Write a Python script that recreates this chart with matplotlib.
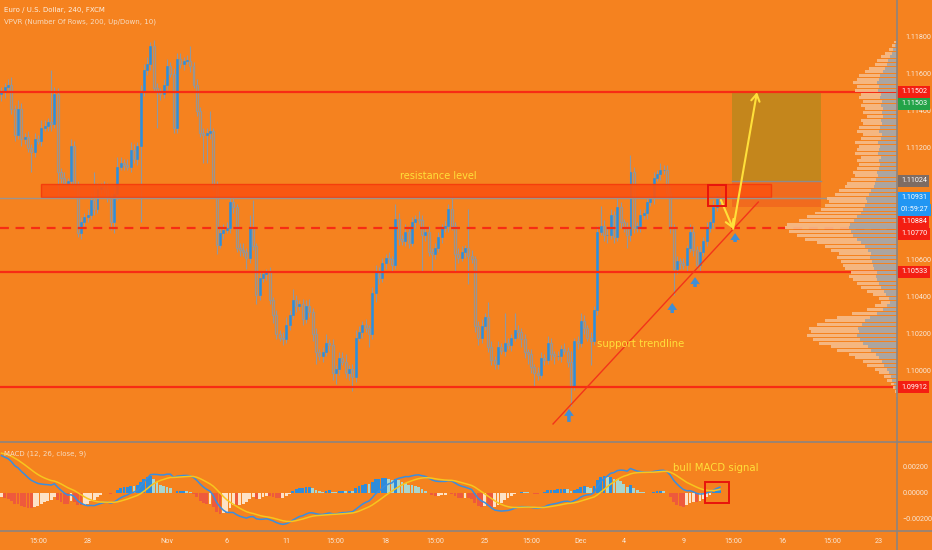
import numpy as np
import matplotlib.pyplot as plt
from matplotlib.patches import Rectangle
from matplotlib.lines import Line2D

# EUR/USD 4h closes (open = previous close)
first_open = 1.1149
closes = [
    1.1150, 1.1153, 1.1154, 1.1141, 1.1127, 1.1141, 1.1125, 1.1126, 1.1120, 1.1118,
    1.1125, 1.1124, 1.1131, 1.1132, 1.1134, 1.1133, 1.1149, 1.1107, 1.1104, 1.1101,
    1.1102, 1.1121, 1.1100, 1.1074, 1.1080, 1.1083, 1.1084, 1.1092, 1.1087, 1.1098,
    1.1099, 1.1098, 1.1094, 1.1080, 1.1095, 1.1110, 1.1112, 1.1111, 1.1110, 1.1119,
    1.1114, 1.1121, 1.1150, 1.1162, 1.1165, 1.1175, 1.1152, 1.1150, 1.1149, 1.1154,
    1.1164, 1.1160, 1.1131, 1.1168, 1.1165, 1.1167, 1.1167, 1.1164, 1.1154, 1.1140,
    1.1128, 1.1127, 1.1128, 1.1129, 1.1099, 1.1068, 1.1074, 1.1076, 1.1077, 1.1091,
    1.1088, 1.1066, 1.1065, 1.1064, 1.1061, 1.1077, 1.1067, 1.1041, 1.1050, 1.1052,
    1.1053, 1.1038, 1.1030, 1.1020, 1.1018, 1.1017, 1.1025, 1.1030, 1.1038, 1.1035,
    1.1036, 1.1028, 1.1035, 1.1032, 1.1020, 1.1010, 1.1008, 1.1010, 1.1015, 1.1014,
    1.0999, 1.1001, 1.1007, 1.1005, 1.0999, 1.1001, 1.0997, 1.1018, 1.1021, 1.1025,
    1.1023, 1.1020, 1.1042, 1.1053, 1.1050, 1.1058, 1.1061, 1.1060, 1.1057, 1.1082,
    1.1071, 1.1070, 1.1075, 1.1069, 1.1080, 1.1082, 1.1081, 1.1073, 1.1075, 1.1064,
    1.1063, 1.1066, 1.1072, 1.1077, 1.1078, 1.1087, 1.1078, 1.1063, 1.1061, 1.1064,
    1.1066, 1.1062, 1.1060, 1.1024, 1.1018, 1.1024, 1.1029, 1.1013, 1.1006, 1.1004,
    1.1013, 1.1011, 1.1015, 1.1014, 1.1018, 1.1022, 1.1021, 1.1017, 1.1010, 1.1009,
    1.1002, 1.0999, 1.0998, 1.1007, 1.1006, 1.1015, 1.1009, 1.1008, 1.1008, 1.1012,
    1.1011, 1.1005, 1.0992, 1.1016, 1.1015, 1.1027, 1.1023, 1.1018, 1.1016, 1.1033,
    1.1075, 1.1078, 1.1073, 1.1073, 1.1084, 1.1072, 1.1088, 1.1080, 1.1077, 1.1073,
    1.1107, 1.1077, 1.1078, 1.1084, 1.1085, 1.1091, 1.1093, 1.1104, 1.1106, 1.1108,
    1.1108, 1.1096, 1.1077, 1.1055, 1.1059, 1.1058, 1.1057, 1.1066, 1.1075, 1.1065,
    1.1057, 1.1064, 1.1070, 1.1077, 1.1080, 1.1088, 1.1094, 1.1093,
]
# wick lengths in pips above / below the body
wick_up = [
    3, 2, 3, 4, 2, 5, 3, 2, 3, 2,   3, 2, 4, 3, 2, 28, 4, 3, 2, 3,
    2, 4, 3, 2, 3, 2, 3, 4, 15, 3,  2, 3, 3, 2, 4, 5, 3, 2, 3, 4,
    3, 2, 4, 3, 4, 2, 3, 3, 2, 3,   4, 2, 3, 3, 3, 2, 3, 8, 2, 3,
    2, 3, 3, 11, 2, 3, 4, 3, 3, 2,  3, 2, 3, 4, 2, 7, 15, 2, 3, 2,
    2, 3, 2, 3, 2, 3, 4, 3, 6, 3,   2, 3, 3, 4, 2, 3, 2, 3, 5, 2,
    3, 2, 3, 3, 4, 2, 3, 4, 3, 2,   3, 2, 3, 4, 3, 3, 2, 3, 2, 8,
    3, 2, 4, 3, 3, 2, 4, 3, 2, 3,   2, 3, 3, 2, 3, 3, 10, 2, 3, 3,
    2, 21, 3, 2, 3, 4, 2, 8, 3, 2,  3, 2, 16, 3, 2, 9, 3, 2, 3, 2,
    3, 2, 3, 3, 2, 4, 3, 2, 3, 2,   3, 2, 6, 2, 3, 4, 3, 2, 3, 2,
    3, 11, 3, 4, 3, 2, 6, 3, 2, 3,  9, 3, 2, 3, 2, 3, 2, 3, 2, 4,
    3, 3, 3, 2, 3, 2, 3, 2, 4, 3,   2, 3, 2, 3, 2, 4, 2, 5,
]
wick_dn = [
    4, 3, 2, 3, 3, 2, 4, 3, 2, 11,  3, 2, 3, 2, 3, 4, 2, 14, 3, 2,
    3, 2, 3, 2, 3, 2, 3, 2, 3, 2,   3, 2, 3, 4, 6, 3, 2, 3, 2, 3,
    2, 3, 41, 2, 3, 3, 2, 19, 3, 2, 3, 2, 3, 3, 2, 3, 2, 3, 2, 3,
    2, 15, 15, 3, 2, 5, 2, 3, 2, 3, 3, 2, 3, 2, 6, 3, 2, 5, 3, 2,
    3, 2, 4, 3, 2, 3, 2, 3, 2, 3,   2, 3, 2, 3, 4, 6, 2, 3, 2, 3,
    4, 6, 3, 2, 3, 4, 8, 3, 2, 3,   2, 7, 3, 5, 3, 2, 3, 2, 3, 2,
    3, 2, 3, 3, 2, 3, 2, 20, 3, 2,  10, 3, 2, 3, 2, 3, 2, 10, 3, 2,
    3, 15, 2, 3, 4, 3, 2, 3, 3, 3,  3, 2, 3, 2, 3, 2, 3, 4, 3, 5,
    3, 7, 3, 2, 3, 2, 3, 4, 2, 3,   2, 3, 11, 2, 3, 2, 3, 2, 13, 2,
    3, 2, 3, 4, 2, 3, 2, 3, 2, 7,   3, 3, 2, 3, 2, 3, 2, 3, 2, 3,
    2, 3, 3, 14, 3, 3, 2, 3, 2, 3,  2, 3, 2, 3, 2, 3, 2, 3,
]

# MACD(12, 26, 9) state carried in from bars before the visible window
ema12_seed, ema26_seed, signal_seed = 1.1140, 1.1110, 0.0031
hist_display_scale = 1.5   # the pane draws its histogram taller than the line gap

# VPVR rows (0.0002 each, from 1.0982 upward), bar length in chart px
vp_start, vp_row = 1.0982, 0.0002
vp_total = [
    0, 0, 1, 2, 4, 6, 10, 13, 18, 22,
    30, 34, 42, 48, 60, 66, 78, 84, 90, 86,
    88, 80, 72, 60, 45, 30, 22, 16, 18, 24,
    30, 36, 40, 44, 48, 46, 52, 54, 56, 60,
    58, 66, 72, 80, 92, 100, 108, 112, 110, 98,
    90, 82, 76, 72, 68, 70, 62, 58, 52, 50,
    46, 42, 44, 40, 38, 40, 36, 42, 40, 38,
    42, 36, 34, 40, 38, 34, 36, 30, 34, 32,
    36, 34, 38, 36, 42, 40, 44, 40, 38, 32,
    28, 22, 20, 16, 12, 8, 5, 3,
]
vp_down = [
    0, 0, 1, 1, 2, 3, 5, 6, 8, 10,
    13, 15, 18, 21, 26, 29, 34, 37, 40, 38,
    39, 35, 32, 27, 20, 14, 10, 7, 8, 11,
    13, 16, 18, 20, 21, 20, 23, 24, 25, 27,
    26, 29, 32, 36, 40, 44, 46, 48, 47, 43,
    40, 36, 34, 32, 30, 31, 28, 26, 23, 22,
    21, 19, 20, 18, 17, 18, 16, 19, 18, 17,
    19, 16, 15, 18, 17, 15, 16, 14, 15, 14,
    16, 15, 17, 16, 19, 18, 20, 18, 17, 14,
    12, 10, 9, 7, 5, 4, 2, 1,
]

# drawings
red_levels = [1.11502, 1.10533, 1.09912]
dashed_level = 1.10770
last_price = 1.10931
resist_band = (11.9, 232.5, 1.10935, 1.11005)      # x0, x1, low, high
entry, stop, target = 1.11024, 1.10884, 1.11502
pos_box = (220.7, 247.6)
trend_line = [(166.6, 1.09715), (228.6, 1.10909)]
yellow_path = [(217.3, 1.1092), (221.0, 1.10765), (228.2, 1.11500)]
up_arrows = [(171.4, 1.09726, 1.09796), (202.6, 1.10312, 1.10366),
             (209.5, 1.10452, 1.10505), (221.6, 1.10694, 1.10742)]
hl_price_box = (213.4, 218.9, 1.10888, 1.11001)
hl_macd_box = (212.5, 219.8, -0.00081, 0.00086)

x_ticks = [11, 26, 50, 68, 86, 101, 116, 131, 146, 160, 175, 188, 206, 221, 236, 251, 265]
x_labels = ['15:00', '28', 'Nov', '6', '11', '15:00', '18', '15:00', '25', '15:00',
            'Dec', '4', '9', '15:00', '16', '15:00', '23']
price_ticks = [1.118, 1.116, 1.114, 1.112, 1.106, 1.104, 1.102, 1.100]
macd_ticks = [0.002, 0.0, -0.002]

bg = '#F5821F'
blue = '#2A8FE0'
gray = '#9A9590'
red = '#F72C14'
yellow = '#FFE03A'
txt = '#F8E8D8'
small = dict(family='Roboto', size=5.2)

fig = plt.figure(figsize=(9.32, 5.5), dpi=100)
fig.patch.set_facecolor(bg)
ax = fig.add_axes([0, 1 - 442 / 550, 897 / 932, 442 / 550])
mx = fig.add_axes([0, 1 - 531 / 550, 897 / 932, 88 / 550], sharex=ax)
for a in (ax, mx):
    a.set_facecolor(bg)
    for s in a.spines.values():
        s.set_visible(False)

# candles
c = np.array(closes)
o = np.concatenate([[first_open], c[:-1]])
x = np.arange(len(c))
top = np.maximum(o, c)
bot = np.minimum(o, c)
hi = top + np.array(wick_up) * 0.0001
lo = bot - np.array(wick_dn) * 0.0001
up = c >= o
ax.vlines(x, lo, hi, color='#8F98A2', lw=0.8, zorder=2)
h = np.maximum(top - bot, 0.00003)
ax.bar(x[up], h[up], bottom=bot[up], width=0.6, color=blue, edgecolor=blue, lw=0.4, zorder=3)
ax.bar(x[~up], h[~up], bottom=bot[~up], width=0.6, facecolor=bg, edgecolor=gray, lw=0.9, zorder=3)

# volume profile on the right
vp = ax.twiny()
vp.set_xlim(np.max(vp_total) * 897 / 112, 0)
vp.axis('off')
rows = vp_start + vp_row * np.arange(len(vp_total)) + vp_row / 2
vp.barh(rows, vp_total, height=vp_row * 0.8, color='#F6BC8C', alpha=0.9, zorder=1)
vp.barh(rows, vp_down, height=vp_row * 0.8, color='#9FA3A6', alpha=0.85, zorder=1)

# drawings
x0, x1, b0, b1 = resist_band
ax.add_patch(Rectangle((x0, b0), x1 - x0, b1 - b0, facecolor='#FA5410', edgecolor='#F43A0C',
                       lw=1, alpha=0.92, zorder=5))
ax.add_patch(Rectangle((pos_box[0], entry), pos_box[1] - pos_box[0], target - entry,
                       facecolor='#C4861C', edgecolor='none', zorder=4))
ax.add_patch(Rectangle((pos_box[0], stop), pos_box[1] - pos_box[0], entry - stop,
                       facecolor='#F0661E', edgecolor='none', alpha=0.8, zorder=4))
ax.plot(pos_box, [entry, entry], color='#8E8B8A', lw=1, zorder=6)
for lv in red_levels:
    ax.axhline(lv, color=red, lw=1.6, zorder=6)
ax.axhline(dashed_level, color=red, lw=1.6, ls=(0, (4, 3)), zorder=6)
ax.axhline(last_price, color='#9C948E', lw=1, zorder=6)
(tx0, ty0), (tx1, ty1) = trend_line
ax.plot([tx0, tx1], [ty0, ty1], color='#F2341A', lw=1, zorder=6)
for (ax0, ay0), (ax1, ay1) in zip(yellow_path[:-1], yellow_path[1:]):
    ax.annotate('', xy=(ax1, ay1), xytext=(ax0, ay0), zorder=7,
                arrowprops=dict(arrowstyle='->,head_length=0.5,head_width=0.3',
                                color=yellow, lw=1.5, shrinkA=0, shrinkB=0))
for bx, yb, yt in up_arrows:
    ax.annotate('', xy=(bx, yt), xytext=(bx, yb), zorder=7,
                arrowprops=dict(arrowstyle='simple,head_width=0.7,head_length=0.5,tail_width=0.25',
                                color='#3F8ED6', lw=0, shrinkA=0, shrinkB=0))
hx0, hx1, hy0, hy1 = hl_price_box
ax.add_patch(Rectangle((hx0, hy0), hx1 - hx0, hy1 - hy0, fill=False, edgecolor='#E8140C', lw=1.4, zorder=7))

ax.text(131.9, 1.11049, 'resistance level', color=yellow, fontsize=7, ha='center', va='center', zorder=8)
ax.text(179.9, 1.10145, 'support trendline', color=yellow, fontsize=7.3, ha='left', va='center', zorder=8)

ax.set_xlim(-0.45, 270.5)
ax.set_ylim(1.09618, 1.11996)
ax.yaxis.tick_right()
ax.set_yticks(price_ticks)
ax.set_yticklabels([f'{p:.5f}' for p in price_ticks], fontdict=small)
ax.tick_params(axis='y', length=0, pad=6, labelcolor=txt)
ax.tick_params(axis='x', bottom=False, labelbottom=False)

# price labels on the scale
scale_tags = [(1.11502, '1.11502', '#F41E12', 0), (1.11502, '1.11503', '#23A348', -12),
              (entry, '1.11024', '#7E6C63', 0), (last_price, '1.10931', '#2196F3', 0),
              (last_price, '01:59:27', '#2196F3', -12), (stop, '1.10884', '#F41E12', -15),
              (dashed_level, '1.10770', '#F41E12', -6), (1.10533, '1.10533', '#F41E12', 0),
              (1.09912, '1.09912', '#F41E12', 0)]
for py, label, col, off in scale_tags:
    ax.annotate(label, xy=(1, py), xycoords=('axes fraction', 'data'), xytext=(4, off),
                textcoords='offset pixels', color='white', va='center', ha='left',
                annotation_clip=False, zorder=9, family='Roboto', fontsize=5.2,
                bbox=dict(boxstyle='square,pad=0.35', fc=col, ec='none'))

# MACD pane
def ema(vals, n, seed):
    k = 2 / (n + 1)
    out, e = [], seed
    for v in vals:
        e = e + k * (v - e)
        out.append(e)
    return np.array(out)

macd = ema(c, 12, ema12_seed) - ema(c, 26, ema26_seed)
signal = ema(macd, 9, signal_seed)
hist = macd - signal
prev = np.concatenate([[hist[0]], hist[:-1]])
hcol = np.where(hist >= 0, np.where(hist > prev, '#2F8CDA', '#A9D6CF'),
                np.where(hist < prev, '#EE5A3C', '#FDE2C6'))
mx.bar(x, hist * hist_display_scale, width=0.85, color=hcol, zorder=2)
mx.plot(x, macd, color='#3A8EE0', lw=1.1, zorder=3)
mx.plot(x, signal, color='#F7C51E', lw=1.1, zorder=3)
mx0, mx1, my0, my1 = hl_macd_box
mx.add_patch(Rectangle((mx0, my0), mx1 - mx0, my1 - my0, fill=False, edgecolor='#E8140C', lw=1.4, zorder=5))
mx.text(202.9, 0.00193, 'bull MACD signal', color=yellow, fontsize=7.3, ha='left', va='center')
mx.set_ylim(-0.00294, 0.00383)
mx.yaxis.tick_right()
mx.set_yticks(macd_ticks)
mx.set_yticklabels([f'{v:.5f}'.replace('-', '\u2212') for v in macd_ticks], fontdict=small)
mx.tick_params(axis='y', length=0, pad=4, labelcolor=txt)
mx.set_xticks(x_ticks)
mx.set_xticklabels(x_labels, fontdict=small)
mx.tick_params(axis='x', length=0, pad=5, labelcolor=txt)

# panel separators
sep = '#8D847E'
fig.add_artist(Line2D([0, 1], [1 - 442 / 550] * 2, color=sep, lw=1.2))
fig.add_artist(Line2D([0, 1], [1 - 531 / 550] * 2, color=sep, lw=1.2))
fig.add_artist(Line2D([897 / 932] * 2, [0, 1], color=sep, lw=1.2))

fig.text(4 / 932, 1 - 10 / 550, 'Euro / U.S. Dollar, 240, FXCM', color='#FBEFE3', fontsize=5, va='center')
fig.text(4 / 932, 1 - 22 / 550, 'VPVR (Number Of Rows, 200, Up/Down, 10)', color='#F6DCC2', fontsize=5, va='center')
fig.text(4 / 932, 1 - 454 / 550, 'MACD (12, 26, close, 9)', color='#F6DCC2', fontsize=5, va='center')

fig.savefig('out.png', dpi=100, facecolor=bg)
